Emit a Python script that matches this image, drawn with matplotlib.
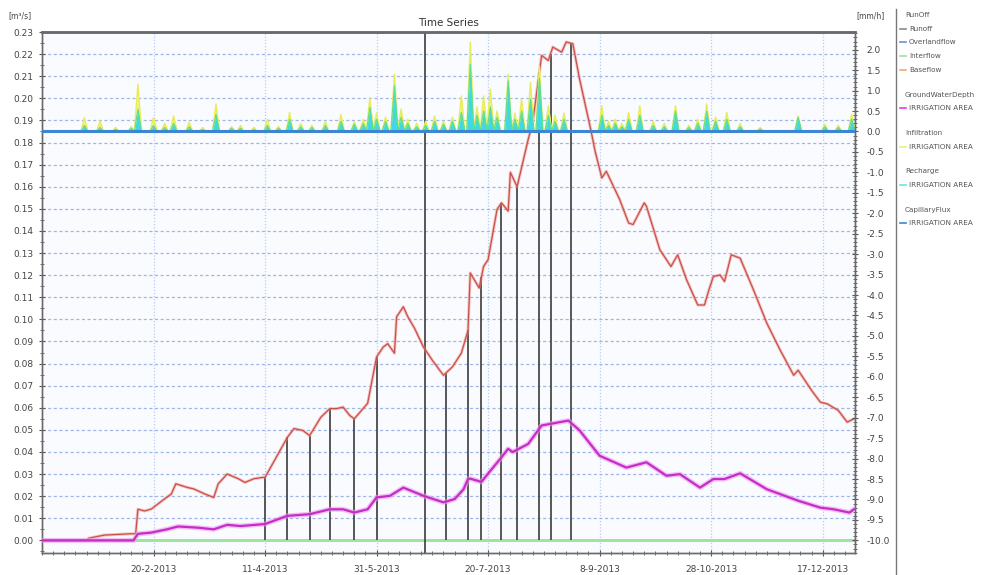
import numpy as np
import matplotlib
matplotlib.use('Agg')
import matplotlib.pyplot as plt
import matplotlib.dates as mdates
from matplotlib.lines import Line2D
from matplotlib.ticker import MultipleLocator, FormatStrFormatter

# ---- data (day of year 2013) ----
start = np.datetime64('2013-01-01')

# Baseflow [m3/s]
base_day = [0, 20, 21, 28, 40, 42, 43, 46, 49, 52, 55, 58, 60, 65, 68, 73, 77, 79, 83, 88, 91, 95, 99,
            100, 110, 113, 117, 120, 125, 129, 132, 135, 138, 140, 146, 150, 153, 155, 158, 159, 162, 164,
            167, 171, 175, 180, 184, 188, 191, 192, 196, 198, 200, 204, 206, 209, 210, 213, 218, 220, 223,
            224, 227, 229, 233, 235, 238, 241, 246, 248, 251, 253, 259, 263, 265, 270, 271, 277, 282, 285,
            289, 294, 297, 299, 301, 304, 306, 309, 313, 319, 325, 331, 337, 339, 345, 349, 352, 357, 361,
            364]
base_val = [0.0, 0.0, 0.001, 0.0024, 0.003, 0.003, 0.0141, 0.0133, 0.0142, 0.0165, 0.0188, 0.021, 0.0256,
            0.024, 0.0233, 0.021, 0.0194, 0.0256, 0.030, 0.0279, 0.0262, 0.0279, 0.0285,
            0.0285, 0.0466, 0.0506, 0.0497, 0.0474, 0.0557, 0.0596, 0.0596, 0.0603, 0.0565, 0.055, 0.062,
            0.083, 0.0875, 0.089, 0.0847, 0.1012, 0.1057, 0.1012,
            0.096, 0.0875, 0.0815, 0.0747, 0.0785, 0.0847, 0.095, 0.121, 0.1142, 0.124, 0.127, 0.1497,
            0.1527, 0.149, 0.1665, 0.160, 0.1815, 0.189, 0.2118,
            0.2194, 0.2171, 0.2232, 0.2209, 0.2255, 0.2247, 0.2088, 0.186, 0.176, 0.164, 0.167, 0.1542,
            0.1436, 0.1429, 0.1527, 0.1512, 0.1315, 0.1239, 0.1292,
            0.1179, 0.1065, 0.1065, 0.1133, 0.1194, 0.1201, 0.1171, 0.1292, 0.1277, 0.1133, 0.0982, 0.086,
            0.0747, 0.077, 0.0679, 0.0625, 0.0618, 0.0588, 0.0535, 0.055]

# GroundWaterDepth, IRRIGATION AREA (right axis)
gwd_day = [0, 41, 43, 49, 56, 61, 70, 77, 83, 89, 100, 110, 120, 129, 135, 140, 146, 150, 156, 162, 171,
           180, 185, 189, 191, 192, 197, 201, 206, 209, 211, 218, 224, 228, 236, 241, 250, 262, 271, 280,
           286, 295, 301, 306, 313, 325, 339, 349, 355, 362, 364]
gwd_val = [-10.0, -10.0, -9.84, -9.81, -9.73, -9.66, -9.69, -9.73, -9.62, -9.65, -9.60, -9.40, -9.36,
           -9.24, -9.24, -9.32, -9.24, -8.95, -8.91, -8.71, -8.91, -9.07, -8.99, -8.75, -8.50, -8.49,
           -8.57, -8.30, -7.97, -7.76, -7.84, -7.64, -7.19, -7.15, -7.07, -7.31, -7.93, -8.22, -8.09,
           -8.42, -8.38, -8.71, -8.50, -8.50, -8.36, -8.75, -9.03, -9.20, -9.24, -9.32, -9.24]

# Runoff events (days where runoff equals baseflow)
runoff_day = [100, 110, 120, 129, 140, 150, 181, 191, 197, 206, 213, 223, 228, 237]
marker_day = 171.5

# Infiltration / Recharge events [mm/h]
event_day = [19, 26, 33, 40, 43, 50, 55, 59, 66, 72, 78, 85, 89, 95, 101, 106, 111, 116, 121, 127, 134,
             140, 144, 147, 150, 154, 158, 161, 164, 168, 172, 176, 180, 184, 188, 192, 195, 198, 201,
             204, 209, 212, 215, 219, 223, 227, 230, 234, 251, 254, 257, 260, 263, 268, 274, 279, 284,
             290, 294, 298, 302, 307, 313, 322, 339, 351, 357, 363]
infil_val = [0.34, 0.26, 0.1, 0.12, 1.16, 0.34, 0.2, 0.38, 0.23, 0.1, 0.67, 0.12, 0.15, 0.1, 0.30, 0.12,
             0.47, 0.2, 0.15, 0.25, 0.42, 0.25, 0.3, 0.83, 0.45, 0.35, 1.4, 0.55, 0.3, 0.2, 0.25, 0.38,
             0.25, 0.35, 0.87, 2.18, 0.6, 0.87, 1.04, 0.5, 1.4, 0.45, 0.79, 1.2, 1.6, 0.63, 0.4, 0.45,
             0.63, 0.25, 0.3, 0.2, 0.47, 0.63, 0.25, 0.2, 0.63, 0.15, 0.3, 0.67, 0.35, 0.47, 0.2, 0.1,
             0.38, 0.18, 0.15, 0.42]
rech_val = [0.15, 0.1, 0.05, 0.08, 0.55, 0.15, 0.1, 0.2, 0.12, 0.05, 0.42, 0.08, 0.08, 0.05, 0.15, 0.08,
            0.3, 0.12, 0.1, 0.15, 0.25, 0.18, 0.2, 0.59, 0.3, 0.25, 1.12, 0.35, 0.2, 0.12, 0.15, 0.25,
            0.18, 0.25, 0.47, 1.65, 0.4, 0.5, 0.6, 0.35, 1.24, 0.3, 0.5, 0.8, 1.3, 0.4, 0.25, 0.3,
            0.4, 0.15, 0.2, 0.12, 0.3, 0.4, 0.15, 0.12, 0.5, 0.1, 0.2, 0.5, 0.25, 0.3, 0.12, 0.06,
            0.35, 0.12, 0.1, 0.3]

# Interflow [m3/s] and CapillaryFlux [mm/h]
interflow_day = [0, 364]
interflow_val = [0.0, 0.0]
capflux_day = [0, 364]
capflux_val = [0.0, 0.0]

tick_dates = ['2013-02-20', '2013-04-11', '2013-05-31', '2013-07-20', '2013-09-08', '2013-10-28', '2013-12-17']
tick_labels = ['20-2-2013', '11-4-2013', '31-5-2013', '20-7-2013', '8-9-2013', '28-10-2013', '17-12-2013']

legend_groups = [
    ('RunOff', [('Runoff', '#8a8a8a'), ('Overlandflow', '#6f8fdc'),
                ('Interflow', '#9fe09f'), ('Baseflow', '#f2a878')]),
    ('GroundWaterDepth', [('IRRIGATION AREA', '#e040e0')]),
    ('Infiltration', [('IRRIGATION AREA', '#eef07a')]),
    ('Recharge', [('IRRIGATION AREA', '#6fe3e3')]),
    ('CapillaryFlux', [('IRRIGATION AREA', '#3d86d6')]),
]


def to_dates(days):
    return start + np.round(np.array(days, dtype=float) * 24).astype('timedelta64[h]')


def spikes(days, vals, half=1.6):
    x, y = [], []
    for d, v in zip(days, vals):
        x += [d - half, d, d + half]
        y += [0.0, v, 0.0]
    return np.array(x), np.array(y)


plt.rcParams['font.family'] = ['DejaVu Sans']
fig = plt.figure(figsize=(10, 5.75), dpi=100)
ax = fig.add_axes([0.042, 0.0383, 0.813, 0.906])
ax.set_facecolor('#f9fbff')
ax2 = ax.twinx()

L_LOW, L_HIGH = -0.0057, 0.23
ax.set_ylim(L_LOW, L_HIGH)
# right axis shares the pixel grid: 0.185 m3/s <-> 0.0, 0.0 m3/s <-> -10.0
ax2.set_ylim((L_LOW - 0.185) * 10 / 0.185, (L_HIGH - 0.185) * 10 / 0.185)

x0 = mdates.date2num(np.datetime64('2013-01-01'))
x1 = mdates.date2num(np.datetime64('2013-12-31T12'))
ax.set_xlim(x0, x1)

# grid
ax.yaxis.set_major_locator(MultipleLocator(0.01))
ax.yaxis.set_minor_locator(MultipleLocator(0.005))
ax.yaxis.set_major_formatter(FormatStrFormatter('%.2f'))
ax.set_xticks(mdates.date2num(np.array(tick_dates, dtype='datetime64[D]')))
ax.set_xticklabels(tick_labels)
ax.set_xticks(mdates.date2num(np.arange(np.datetime64('2013-01-01'), np.datetime64('2014-01-01'),
                                        np.timedelta64(5, 'D'))), minor=True)
ax.grid(True, which='major', axis='y', color='#9fb6e6', linestyle=(0, (2.5, 2)), linewidth=0.9)
ax.grid(True, which='major', axis='x', color='#b9cdf0', linestyle=(0, (1, 1.5)), linewidth=0.9)
ax.set_axisbelow(True)

# left axis series
bd = to_dates(base_day)
ax.plot(to_dates(interflow_day), interflow_val, color='#9fe59f', lw=2.2, zorder=2)
rv = np.interp(runoff_day, base_day, base_val)
ax.vlines(to_dates(runoff_day), 0, rv, color='#4a4a4a', lw=1.3, zorder=3)
ax.axvline(to_dates([marker_day])[0], color='#4a4a4a', lw=1.3, zorder=3)
ax.plot(bd, base_val, color='#f08a80', lw=2.2, alpha=0.5, zorder=4)
ax.plot(bd, base_val, color='#c9504a', lw=0.9, zorder=4)

# right axis series
ex, ey = spikes(event_day, infil_val)
rx, ry = spikes(event_day, rech_val)
ax2.fill_between(to_dates(ex), 0, ey, color='#f4f47a', lw=0, zorder=1)
ax2.plot(to_dates(ex), ey, color='#e8ec5a', lw=1.0, zorder=1)
ax2.fill_between(to_dates(rx), 0, ry, color='#3fd8e8', lw=0, zorder=2)
ax2.plot(to_dates(rx), ry, color='#5ee08a', lw=0.8, zorder=2)
ax2.plot(to_dates(capflux_day), capflux_val, color='#3d86d6', lw=2.2, zorder=3)
gd = to_dates(gwd_day)
ax2.plot(gd, gwd_val, color='#f29af2', lw=3.6, alpha=0.6, zorder=4)
ax2.plot(gd, gwd_val, color='#c42ec4', lw=1.6, zorder=4)

ax2.yaxis.set_major_locator(MultipleLocator(0.5))
ax2.yaxis.set_minor_locator(MultipleLocator(0.1))
ax2.yaxis.set_major_formatter(FormatStrFormatter('%.1f'))

for a in (ax, ax2):
    a.tick_params(which='major', direction='inout', length=5, width=0.8, colors='#555555',
                  labelsize=6.5, labelcolor='#444444')
    a.tick_params(which='minor', direction='inout', length=3, width=0.6, colors='#555555')
    for s in a.spines.values():
        s.set_color('#6a6a6a')
        s.set_linewidth(1.0)
    a.spines['top'].set_linewidth(1.8)
ax.tick_params(axis='x', which='major', pad=6)
ax2.tick_params(axis='y', pad=6)

ax.set_title('Time Series', fontsize=7.5, color='#333333', pad=4)
fig.text(0.008, 0.972, '[m³/s]', fontsize=5.5, color='#444444', va='center')
fig.text(0.856, 0.972, '[mm/h]', fontsize=5.5, color='#444444', va='center')

# legend panel
fig.add_artist(Line2D([0.896, 0.896], [0.0, 0.985], transform=fig.transFigure, color='#777777', lw=1.0))
y = 15
for header, entries in legend_groups:
    fig.text(0.905, 1 - y / 575, header, fontsize=5.2, color='#555555', va='center')
    y += 13.7
    for label, col in entries:
        fig.add_artist(Line2D([0.900, 0.906], [1 - y / 575] * 2, transform=fig.transFigure,
                              color=col, lw=1.2))
        fig.text(0.909, 1 - y / 575, label, fontsize=5.2, color='#555555', va='center')
        y += 13.7
    y += 11

fig.savefig('out.png', dpi=100)
